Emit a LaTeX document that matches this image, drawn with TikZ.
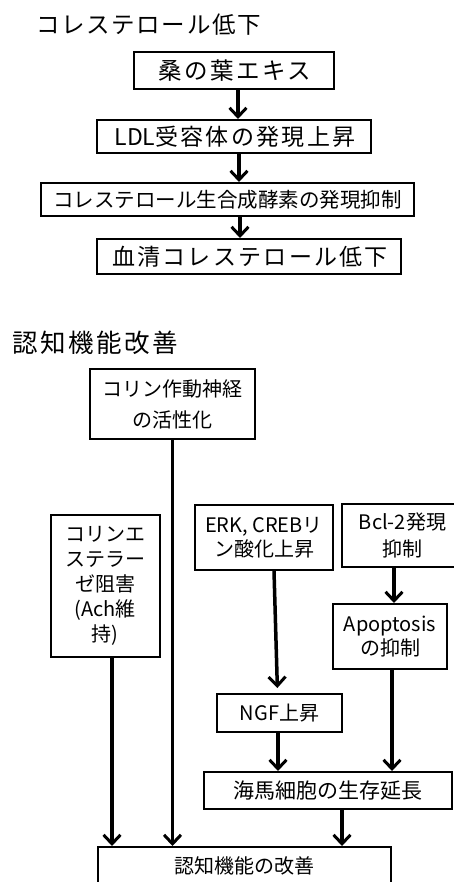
\documentclass[tikz,border=0pt]{standalone}
\usepackage{fontspec}
\setmainfont{Noto Sans CJK JP}
\newfontfamily\widejp[LetterSpace=10]{Noto Sans CJK JP}
\newfontfamily\midjp[LetterSpace=7]{Noto Sans CJK JP}
\usetikzlibrary{arrows.meta,calc}
\tikzset{
  box/.style={draw, line width=2pt, inner sep=0pt, align=center, text=black},
  sbox/.style={box, font=\widejp\fontsize{23}{27}\selectfont},
  cbox/.style={box, font=\fontsize{20}{25}\selectfont},
  arr/.style={line width=3.5pt, -{Straight Barb[length=9pt,width=17pt,line width=3pt]}},
  ttl/.style={anchor=west, inner sep=0pt},
}
\begin{document}
\begin{tikzpicture}[x=1pt,y=-1pt]
\useasboundingbox (0,0) rectangle (453,882);
% section 1
\node[ttl, font=\midjp\fontsize{23.5}{28}\selectfont] (t1) at (36,25) {コレステロール低下};
\node[sbox, font=\widejp\fontsize{23.5}{27}\selectfont, minimum width=200, minimum height=37] (b1) at (234,70.5) {\hspace*{2pt}桑の葉エキス};
\node[sbox, minimum width=274, minimum height=33] (b2) at (234,136.5) {\hspace*{2pt}{\rmfamily LDL}受容体の発現上昇};
\node[box, font=\fontsize{20.5}{24}\selectfont, minimum width=373, minimum height=33] (b3) at (227.5,199.5) {コレステロール生合成酵素の発現抑制};
\node[sbox, minimum width=304, minimum height=35] (b4) at (249,256.5) {\hspace*{2pt}血清コレステロール低下};
\draw[arr] (b1.south -| 238,0) -- (b2.north -| 238,0);
\draw[arr] (b2.south -| 239,0) -- (b3.north -| 239,0);
\draw[arr] (b3.south -| 240,0) -- (b4.north -| 240,0);
% section 2
\node[ttl, font=\widejp\fontsize{25.5}{30}\selectfont] (t2) at (12,343) {認知機能改善};
\node[box, font=\fontsize{20}{31}\selectfont, minimum width=165, minimum height=70] (c1) at (172.5,404) {コリン作動神経\\の活性化};
\node[cbox, minimum width=109, minimum height=142] (c2) at (105,585.5) {コリンエ\\ステラー\\ゼ阻害\\(Ach維\\持)};
\node[cbox, font=\fontsize{20}{24}\selectfont, minimum width=138, minimum height=65] (c3) at (264,537.5) {ERK, CREBリ\\ン酸化上昇};
\node[cbox, font=\fontsize{20}{27}\selectfont, minimum width=121, minimum height=63] (c4) at (402.5,535) {Bcl-2発現\\抑制};
\node[cbox, font=\fontsize{20}{24}\selectfont, minimum width=114, minimum height=65] (c5) at (390,636.5) {Apoptosis\\の抑制};
\node[cbox, minimum width=125, minimum height=38] (c6) at (279.5,713) {NGF上昇};
\node[cbox, font=\fontsize{21}{25}\selectfont, minimum width=248, minimum height=37] (c7) at (328,790.5) {海馬細胞の生存延長};
\node[cbox, minimum width=293, minimum height=38] (c8) at (244.5,866) {認知機能の改善};
\draw[arr] (c1.south) -- (c1.south |- c8.north);
\draw[arr] ([xshift=7pt]c2.south) -- ([xshift=7pt]c2.south |- c8.north);
\draw[arr, shorten >=5pt] ([xshift=10pt]c3.south) -- ([xshift=-2pt]c6.north);
\draw[arr] ([xshift=-8.5pt]c4.south) -- ([xshift=-8.5pt]c4.south |- c5.north);
\draw[arr] ([xshift=2pt]c5.south) -- ([xshift=2pt]c5.south |- c7.north);
\draw[arr] ([xshift=-1.5pt]c6.south) -- ([xshift=-1.5pt]c6.south |- c7.north);
\draw[arr] ([xshift=14pt]c7.south) -- ([xshift=14pt]c7.south |- c8.north);
\end{tikzpicture}
\end{document}
